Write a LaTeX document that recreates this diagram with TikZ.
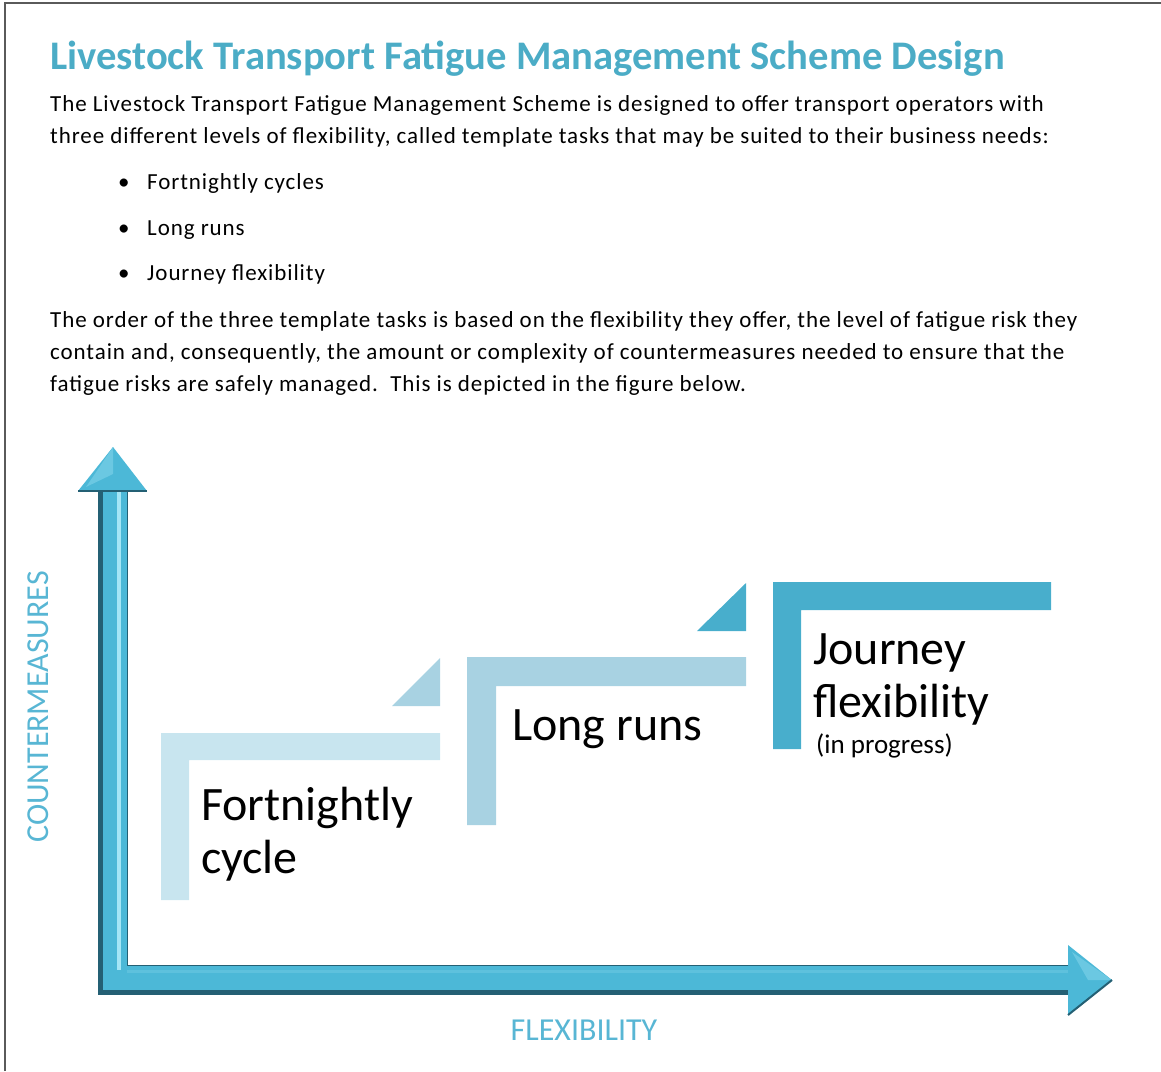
\documentclass[tikz,border=0pt]{standalone}
\usepackage{fontspec}
\setmainfont{Carlito}
\usetikzlibrary{positioning}
\definecolor{titleblue}{RGB}{75,172,198}
\definecolor{axislabelblue}{RGB}{88,182,212}
\definecolor{stepone}{RGB}{200,229,239}
\definecolor{steptwo}{RGB}{168,210,226}
\definecolor{stepthree}{RGB}{72,174,204}
\definecolor{axisdark}{RGB}{36,96,116}
\definecolor{axismain}{RGB}{76,184,215}
\definecolor{axislight}{RGB}{165,230,246}
\definecolor{framegray}{RGB}{90,90,90}

\begin{document}
\begin{tikzpicture}[x=1pt, y=-1pt,
    bodytext/.style={anchor=base west, inner sep=0pt, align=left,
        font=\fontsize{23}{32}\selectfont\addfontfeature{LetterSpace=4}},
    steplabel/.style={anchor=base west, inner sep=0pt, align=left,
        font=\fontsize{48}{53}\selectfont},
    axislabel/.style={inner sep=0pt, text=axislabelblue,
        font=\fontsize{32}{38}\selectfont}]
    \useasboundingbox (0,0) rectangle (1161,1071);

    % Page frame
    \draw[framegray, line width=2pt] (5,1071) -- (5,3) -- (1161,3);

    % Heading and text (multi-line nodes sit on their last baseline)
    \node[anchor=base west, inner sep=0pt, text=titleblue,
        font=\fontsize{40.6}{46}\selectfont\bfseries] (title) at (50,69)
        {Livestock Transport Fatigue Management Scheme Design};
    \node[bodytext] (intro) at (50,143)
        {The Livestock Transport Fatigue Management Scheme is designed to offer transport operators with\\
         three different levels of flexibility, called template tasks that may be suited to their business needs:};
    \node[bodytext] (dotA) at (118,189) {\textbullet};
    \node[bodytext] (itemA) at (147,189) {Fortnightly cycles};
    \node[bodytext] (dotB) at (118,235) {\textbullet};
    \node[bodytext] (itemB) at (147,235) {Long runs};
    \node[bodytext] (dotC) at (118,280) {\textbullet};
    \node[bodytext] (itemC) at (147,280) {Journey flexibility};
    \node[bodytext] (order) at (50,391)
        {The order of the three template tasks is based on the flexibility they offer, the level of fatigue risk they\\
         contain and, consequently, the amount or complexity of countermeasures needed to ensure that the\\
         fatigue risks are safely managed.\ \ This is depicted in the figure below.};

    % Axes
    \coordinate (ytip) at (113,447);
    \coordinate (ybase) at (113,491);
    \coordinate (origin) at (113,980);
    \coordinate (xbase) at (1068,980);
    \coordinate (xtip) at (1112,980);
    \draw[axisdark, line width=30pt] (ybase) -- (origin) -- (xbase);
    \draw[axismain, line width=24pt] ([shift={(2,0)}]ybase) -- ([shift={(2,-2)}]origin) -- ([shift={(0,-2)}]xbase);
    \draw[axislight, line width=4pt] ([shift={(6,0)}]ybase) -- ([shift={(6,-10)}]origin);
    \draw[axismain!80!axislight, line width=3pt] ([shift={(14,-9)}]origin) -- ([shift={(0,-9)}]xbase);
    \fill[axismain] (78,491) -- (ytip) -- (147,491) -- cycle;
    \fill[axismain!65!axislight] (86,487) -- (ytip) -- (113,474) -- cycle;
    \draw[axisdark, line width=2pt] (78,491) -- (147,491);
    \fill[axismain] (1068,945) -- (xtip) -- (1068,1015) -- cycle;
    \fill[axismain!65!axislight] (1072,952) -- (xtip) -- (1088,980) -- cycle;
    \draw[axisdark, line width=2pt] (1068,1015) -- (xtip);
    \node[axislabel, rotate=90] (ylabel) at (38,707) {COUNTERMEASURES};
    \node[axislabel] (xlabel) at (584,1030) {FLEXIBILITY};

    % Steps
    \fill[stepone] (161,900) -- (161,733) -- (440,733) -- (440,760) -- (189,760) -- (189,900) -- cycle;
    \fill[steptwo] (392,706) -- (440,706) -- (440,658) -- cycle;
    \fill[steptwo] (467,825) -- (467,657) -- (746,657) -- (746,686) -- (496,686) -- (496,825) -- cycle;
    \fill[stepthree] (697,631) -- (746,631) -- (746,583) -- cycle;
    \fill[stepthree] (773,749) -- (773,582) -- (1051,582) -- (1051,610) -- (801,610) -- (801,749) -- cycle;

    % Step labels
    \node[steplabel] (fortnight) at (201,873) {Fortnightly\\cycle};
    \node[steplabel] (longruns) at (512,740) {Long runs};
    \node[steplabel] (journey) at (813,717) {Journey\\flexibility};
    \node[anchor=base west, inner sep=0pt, font=\fontsize{27}{32}\selectfont] (progress) at (816,753) {(in progress)};
\end{tikzpicture}
\end{document}
